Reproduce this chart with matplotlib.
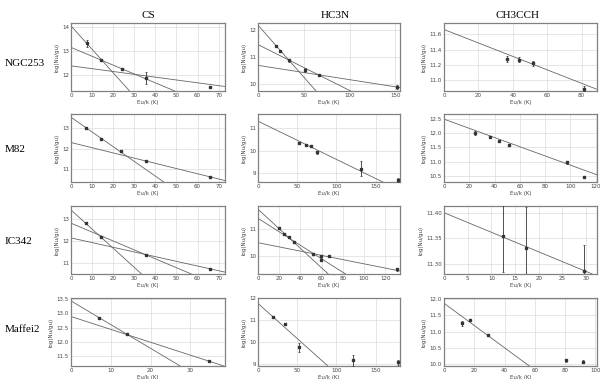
import numpy as np
import matplotlib
matplotlib.use("Agg")
import matplotlib.pyplot as plt

# Rotation diagrams - rows: galaxies, cols: molecules
galaxies = ["NGC253", "M82", "IC342", "Maffei2"]
molecules = ["CS", "HC3N", "CH3CCH"]

# NGC253
ngc253_cs_x = [7.5, 14.3, 24.1, 35.7, 65.7]
ngc253_cs_y = [13.33, 12.63, 12.25, 11.88, 11.50]
ngc253_cs_err = [0.15, 0.03, 0.02, 0.24, 0.02]
ngc253_cs_fits = [(14.05, -0.098), (13.15, -0.037), (12.38, -0.0118)]

ngc253_hc3n_x = [19.2, 23.9, 33.3, 51.8, 66.3, 151.8]
ngc253_hc3n_y = [11.42, 11.24, 10.89, 10.53, 10.36, 9.89]
ngc253_hc3n_err = [0.04, 0.03, 0.05, 0.06, 0.03, 0.07]
ngc253_hc3n_fits = [(12.19, -0.0385), (11.47, -0.017), (10.70, -0.0053)]

ngc253_ch3cch_x = [36.5, 43.9, 52.0, 81.5]
ngc253_ch3cch_y = [11.28, 11.27, 11.22, 10.89]
ngc253_ch3cch_err = [0.04, 0.03, 0.03, 0.03]
ngc253_ch3cch_fits = [(11.665, -0.0088)]

# M82
m82_cs_x = [7.3, 14.1, 23.7, 35.6, 65.7]
m82_cs_y = [13.00, 12.49, 11.87, 11.39, 10.61]
m82_cs_err = [0.03, 0.03, 0.04, 0.02, 0.02]
m82_cs_fits = [(13.54, -0.0723), (12.30, -0.0256)]

m82_hc3n_x = [52.5, 60.6, 67.8, 75.8, 131.8, 178.8]
m82_hc3n_y = [10.35, 10.27, 10.20, 9.92, 9.20, 8.70]
m82_hc3n_err = [0.06, 0.03, 0.03, 0.06, 0.34, 0.08]
m82_hc3n_fits = [(11.32, -0.0171)]

m82_ch3cch_x = [24.7, 36.5, 43.8, 51.7, 97.6, 110.8]
m82_ch3cch_y = [12.00, 11.86, 11.71, 11.58, 10.98, 10.46]
m82_ch3cch_err = [0.06, 0.02, 0.02, 0.02, 0.05, 0.04]
m82_ch3cch_fits = [(12.49, -0.0161)]

# IC342
ic342_cs_x = [7.3, 14.2, 35.4, 66.0]
ic342_cs_y = [12.83, 12.20, 11.38, 10.72]
ic342_cs_err = [0.03, 0.04, 0.03, 0.02]
ic342_cs_fits = [(13.42, -0.087), (12.82, -0.0405), (12.15, -0.0213)]

ic342_hc3n_x = [19.7, 24.1, 28.8, 34.4, 52.2, 59.4, 59.4, 66.9, 131.0]
ic342_hc3n_y = [11.05, 10.81, 10.70, 10.53, 10.08, 10.02, 9.87, 10.00, 9.50]
ic342_hc3n_err = [0.03, 0.03, 0.03, 0.03, 0.05, 0.03, 0.06, 0.03, 0.06]
ic342_hc3n_fits = [(11.75, -0.0365), (11.41, -0.0252), (10.50, -0.0079)]

ic342_ch3cch_x = [12.4, 17.3, 29.6]
ic342_ch3cch_y = [11.354, 11.332, 11.287]
ic342_ch3cch_err = [0.07, 0.08, 0.05]
ic342_ch3cch_fits = [(11.40, -0.0038)]

# Maffei2
maffei2_cs_x = [7.0, 14.1, 34.7]
maffei2_cs_y = [12.83, 12.27, 11.33]
maffei2_cs_err = [0.05, 0.03, 0.02]
maffei2_cs_fits = [(13.42, -0.082), (12.88, -0.0445)]

maffei2_hc3n_x = [19.1, 33.9, 52.5, 120.8, 178.0]
maffei2_hc3n_y = [11.14, 10.85, 9.77, 9.18, 9.08]
maffei2_hc3n_err = [0.04, 0.03, 0.20, 0.25, 0.12]
maffei2_hc3n_fits = [(11.77, -0.0321)]

maffei2_ch3cch_x = [12.0, 17.2, 29.3, 80.4, 91.7]
maffei2_ch3cch_y = [11.25, 11.35, 10.89, 10.12, 10.08]
maffei2_ch3cch_err = [0.07, 0.03, 0.03, 0.05, 0.04]
maffei2_ch3cch_fits = [(11.87, -0.0341)]

data = [
    [(ngc253_cs_x, ngc253_cs_y, ngc253_cs_err, ngc253_cs_fits),
     (ngc253_hc3n_x, ngc253_hc3n_y, ngc253_hc3n_err, ngc253_hc3n_fits),
     (ngc253_ch3cch_x, ngc253_ch3cch_y, ngc253_ch3cch_err, ngc253_ch3cch_fits)],
    [(m82_cs_x, m82_cs_y, m82_cs_err, m82_cs_fits),
     (m82_hc3n_x, m82_hc3n_y, m82_hc3n_err, m82_hc3n_fits),
     (m82_ch3cch_x, m82_ch3cch_y, m82_ch3cch_err, m82_ch3cch_fits)],
    [(ic342_cs_x, ic342_cs_y, ic342_cs_err, ic342_cs_fits),
     (ic342_hc3n_x, ic342_hc3n_y, ic342_hc3n_err, ic342_hc3n_fits),
     (ic342_ch3cch_x, ic342_ch3cch_y, ic342_ch3cch_err, ic342_ch3cch_fits)],
    [(maffei2_cs_x, maffei2_cs_y, maffei2_cs_err, maffei2_cs_fits),
     (maffei2_hc3n_x, maffei2_hc3n_y, maffei2_hc3n_err, maffei2_hc3n_fits),
     (maffei2_ch3cch_x, maffei2_ch3cch_y, maffei2_ch3cch_err, maffei2_ch3cch_fits)],
]

# axis ranges, ticks and tick format per panel
xlims = [[(0, 73), (0, 155), (0, 89)],
         [(0, 73), (0, 181), (0, 121)],
         [(0, 73), (0, 134), (0, 32.3)],
         [(0, 38.7), (0, 181), (0, 101)]]
ylims = [[(11.33, 14.17), (9.75, 12.27), (10.86, 11.75)],
         [(10.36, 13.70), (8.6, 11.64), (10.29, 12.67)],
         [(10.51, 13.60), (9.33, 11.87), (11.281, 11.413)],
         [(11.17, 13.52), (8.91, 12.02), (9.95, 12.03)]]
xticks = [[range(0, 71, 10), [0, 50, 100, 150], range(0, 81, 20)],
          [range(0, 71, 10), [0, 50, 100, 150], range(0, 121, 20)],
          [range(0, 71, 10), range(0, 121, 20), range(0, 31, 5)],
          [[0, 10, 20, 30], [0, 50, 100, 150], range(0, 101, 20)]]
yticks = [[[12, 13, 14], [10, 11, 12], [11.0, 11.2, 11.4, 11.6]],
          [[11, 12, 13], [9, 10, 11], [10.5, 11.0, 11.5, 12.0, 12.5]],
          [[11, 12, 13], [10, 11], [11.30, 11.35, 11.40]],
          [[11.5, 12.0, 12.5, 13.0, 13.5], [9, 10, 11, 12], [10.0, 10.5, 11.0, 11.5, 12.0]]]
yfmt = [["%d", "%d", "%.1f"],
        ["%d", "%d", "%.1f"],
        ["%d", "%d", "%.2f"],
        ["%.1f", "%d", "%.1f"]]

W, H = 600, 379
fig = plt.figure(figsize=(6, 3.79), dpi=100)

col_lr = [(71, 225), (258, 400), (444, 597)]
row_tb = [(23, 91), (114, 182), (206, 274), (298, 366)]

for r in range(4):
    for c in range(3):
        l, rr = col_lr[c]
        t, b = row_tb[r]
        ax = fig.add_axes([l / W, 1 - b / H, (rr - l) / W, (b - t) / H])
        x, y, err, fits = data[r][c]
        for b0, m in fits:
            ax.axline((0, b0), slope=m, color="#666666", lw=0.6, zorder=2)
        ax.errorbar(x, y, yerr=err, fmt="s", ms=1.8, color="#333333",
                    ecolor="#333333", elinewidth=0.6, capsize=0.8, capthick=0.5, zorder=3)
        ax.set_xlim(*xlims[r][c])
        ax.set_ylim(*ylims[r][c])
        ax.set_xticks(list(xticks[r][c]))
        ax.set_yticks(yticks[r][c])
        ax.set_yticklabels([yfmt[r][c] % v for v in yticks[r][c]])
        ax.grid(True, color="#dcdcdc", lw=0.5)
        ax.set_axisbelow(True)
        ax.tick_params(length=0, pad=1.5, labelsize=4, labelcolor="#444444")
        for s in ax.spines.values():
            s.set_color("#808080")
            s.set_linewidth(0.9)
        ax.set_xlabel("Eu/k (K)", fontsize=4, labelpad=1.5, color="#444444")
        ax.set_ylabel("log(Nu/gu)", fontsize=4, labelpad=2, color="#444444")

# column titles and row labels
title_x = [148, 335, 518]
for c in range(3):
    fig.text(title_x[c] / W, 1 - 15 / H, molecules[c], ha="center", va="center",
             fontsize=8, family="Liberation Serif")
row_y = [63, 150, 241, 330]
for r in range(4):
    fig.text(5 / W, 1 - row_y[r] / H, galaxies[r], ha="left", va="center",
             fontsize=8, family="Liberation Serif")

fig.savefig("out.png", dpi=100)
